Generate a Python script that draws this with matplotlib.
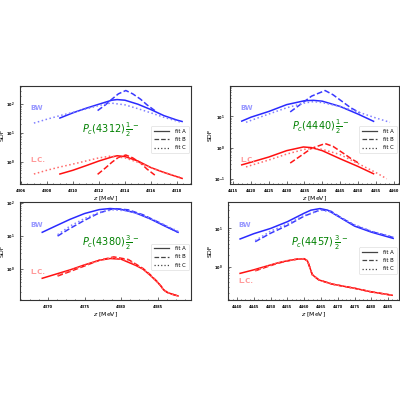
import matplotlib
matplotlib.use("Agg")
import matplotlib.pyplot as plt
from matplotlib.ticker import LogLocator, AutoMinorLocator

# ---- Pc(4312) 1/2- ----
x4312_bw_a = [4309, 4310, 4311, 4312, 4313, 4313.4, 4314, 4315, 4316, 4317, 4318, 4318.4]
y4312_bw_a = [33, 50, 72, 100, 138, 145, 138, 100, 65, 40, 28, 25]
x4312_bw_b = [4311.9, 4312.5, 4313, 4313.5, 4314.07, 4314.6, 4315.2, 4315.7, 4316.3]
y4312_bw_b = [60, 95, 150, 230, 300, 230, 150, 95, 60]
x4312_bw_c = [4307, 4308, 4309, 4310, 4311, 4312, 4312.9, 4314, 4315, 4316, 4317, 4318.4]
y4312_bw_c = [22, 30, 40, 52, 68, 90, 110, 95, 70, 50, 35, 23]
x4312_lc_a = [4309, 4310, 4311, 4312, 4313, 4313.4, 4314, 4315, 4316, 4317, 4318.4]
y4312_lc_a = [0.37, 0.5, 0.72, 1.05, 1.45, 1.6, 1.5, 1.05, 0.62, 0.42, 0.26]
x4312_lc_b = [4311.9, 4312.5, 4313, 4313.5, 4314.07, 4314.6, 4315.2, 4315.7, 4316.3]
y4312_lc_b = [0.36, 0.6, 0.95, 1.4, 1.7, 1.35, 0.9, 0.55, 0.34]
x4312_lc_c = [4307, 4308, 4309, 4310, 4311, 4312, 4312.9, 4314, 4315, 4316, 4317, 4318.4]
y4312_lc_c = [0.37, 0.5, 0.65, 0.82, 1.05, 1.35, 1.55, 1.35, 0.95, 0.62, 0.42, 0.27]

# ---- Pc(4440) 1/2- ----
x4440_bw_a = [4417.4, 4420, 4425, 4430, 4435, 4437.5, 4440, 4445, 4450, 4454.4]
y4440_bw_a = [7.1, 9.5, 14.5, 24, 32, 33, 31, 21, 12, 7]
x4440_bw_b = [4431, 4434, 4437, 4440.8, 4443, 4446, 4448, 4450.6]
y4440_bw_b = [14, 25, 45, 68, 50, 28, 19, 13]
x4440_bw_c = [4418.6, 4420, 4425, 4430, 4435, 4437.5, 4440, 4445, 4450, 4455, 4459]
y4440_bw_c = [6.5, 7.5, 12, 19, 27, 30, 28, 21, 14, 9, 6.5]
x4440_lc_a = [4417.4, 4420, 4425, 4430, 4434.7, 4437, 4440, 4445, 4450, 4454.4]
y4440_lc_a = [0.28, 0.34, 0.5, 0.8, 1.05, 1.0, 0.8, 0.44, 0.25, 0.145]
x4440_lc_b = [4431, 4434, 4437, 4440.8, 4443, 4446, 4448, 4450.6]
y4440_lc_b = [0.32, 0.55, 0.95, 1.35, 1.1, 0.65, 0.45, 0.3]
x4440_lc_c = [4418.6, 4420, 4425, 4430, 4435, 4437.5, 4440, 4445, 4450, 4455, 4458.1]
y4440_lc_c = [0.24, 0.27, 0.4, 0.62, 0.88, 0.95, 0.88, 0.6, 0.31, 0.16, 0.1]

# ---- Pc(4380) 3/2- ----
x4380_bw_a = [4369.2, 4371, 4373, 4375, 4377, 4378.5, 4380, 4382, 4384, 4386, 4387.8]
y4380_bw_a = [13, 20, 32, 48, 63, 68, 64, 50, 33, 20, 13]
x4380_bw_b = [4371.3, 4373, 4375, 4377, 4379, 4381, 4383, 4385, 4387.8]
y4380_bw_b = [10, 17, 30, 50, 68, 62, 44, 27, 13]
x4380_bw_c = [4371.3, 4373, 4375, 4377, 4378.8, 4381, 4383, 4385, 4387.8]
y4380_bw_c = [11, 20, 34, 52, 62, 58, 42, 27, 14]
x4380_lc_a = [4369.2, 4371, 4373, 4375, 4377, 4378.5, 4380, 4382, 4383, 4384, 4385, 4385.5, 4385.8, 4386.3, 4387, 4387.8]
y4380_lc_a = [0.53, 0.7, 0.95, 1.35, 1.85, 2.1, 2.0, 1.3, 1.0, 0.65, 0.4, 0.3, 0.24, 0.2, 0.175, 0.155]
x4380_lc_b = [4371.3, 4373, 4375, 4377, 4379, 4381, 4383, 4384, 4385, 4385.5, 4385.8, 4386.3, 4387, 4387.8]
y4380_lc_b = [0.62, 0.85, 1.25, 1.85, 2.35, 1.95, 1.05, 0.68, 0.41, 0.3, 0.24, 0.2, 0.175, 0.155]
x4380_lc_c = [4371.3, 4373, 4375, 4377, 4378.8, 4381, 4383, 4384, 4385, 4385.5, 4385.8, 4386.3, 4387, 4387.8]
y4380_lc_c = [0.66, 0.9, 1.3, 1.85, 2.2, 1.85, 1.02, 0.66, 0.4, 0.3, 0.24, 0.2, 0.175, 0.155]

# ---- Pc(4457) 3/2- ----
x4457_bw_a = [4440.9, 4445, 4450, 4455, 4460, 4462, 4464.7, 4467, 4470, 4475, 4480, 4486.5]
y4457_bw_a = [5.3, 7.3, 10, 15, 25, 30, 33, 30, 21, 11.5, 8, 5.5]
x4457_bw_b = [4445.4, 4450, 4455, 4460, 4465, 4468, 4471, 4475, 4480, 4486.5]
y4457_bw_b = [4.5, 7.5, 12, 21, 31, 28, 19, 12, 8.3, 5.8]
x4457_bw_c = [4445.4, 4450, 4455, 4460, 4465, 4468, 4471, 4475, 4480, 4486.5]
y4457_bw_c = [4.8, 8.5, 13, 22, 30, 27, 19, 12.5, 8.5, 6]
x4457_lc_a = [4440.9, 4445, 4449, 4452, 4455, 4458, 4460, 4461, 4461.6, 4462.4, 4464.4, 4468.4, 4475.3, 4480, 4486.2]
y4457_lc_a = [0.67, 0.83, 1.05, 1.25, 1.43, 1.58, 1.6, 1.4, 1.0, 0.62, 0.45, 0.35, 0.27, 0.22, 0.18]
x4457_lc_b = [4445.4, 4449, 4452, 4455, 4458, 4460, 4461, 4461.6, 4462.4, 4464.4, 4468.4, 4475.3, 4480, 4486.2]
y4457_lc_b = [0.78, 1.0, 1.22, 1.42, 1.58, 1.62, 1.42, 1.0, 0.62, 0.45, 0.35, 0.27, 0.22, 0.18]
x4457_lc_c = [4445.4, 4449, 4452, 4455, 4458, 4460, 4461, 4461.6, 4462.4, 4464.4, 4468.4, 4475.3, 4480, 4486.2]
y4457_lc_c = [0.8, 1.03, 1.25, 1.45, 1.6, 1.62, 1.42, 1.0, 0.62, 0.45, 0.35, 0.27, 0.22, 0.18]

names = [r"$P_c(4312)\,\frac{1}{2}^-$", r"$P_c(4440)\,\frac{1}{2}^-$",
         r"$P_c(4380)\,\frac{3}{2}^-$", r"$P_c(4457)\,\frac{3}{2}^-$"]
xticks = [range(4306, 4319, 2), range(4415, 4461, 5), range(4370, 4386, 5), range(4440, 4486, 5)]
xlims = [(4305.9, 4319.1), (4414.1, 4461.6), (4366.1, 4389.6), (4437.3, 4488.3)]
ylims = [(0.166, 445), (0.068, 98), (0.117, 107), (0.135, 49)]
lc_ypos = [0.245, 0.245, 0.29, 0.19]
pc_ypos = [0.55, 0.585, 0.58, 0.58]
leg_ypos = [0.45, 0.45, 0.44, 0.40]

curves = [
    (x4312_bw_a, y4312_bw_a, x4312_bw_b, y4312_bw_b, x4312_bw_c, y4312_bw_c,
     x4312_lc_a, y4312_lc_a, x4312_lc_b, y4312_lc_b, x4312_lc_c, y4312_lc_c),
    (x4440_bw_a, y4440_bw_a, x4440_bw_b, y4440_bw_b, x4440_bw_c, y4440_bw_c,
     x4440_lc_a, y4440_lc_a, x4440_lc_b, y4440_lc_b, x4440_lc_c, y4440_lc_c),
    (x4380_bw_a, y4380_bw_a, x4380_bw_b, y4380_bw_b, x4380_bw_c, y4380_bw_c,
     x4380_lc_a, y4380_lc_a, x4380_lc_b, y4380_lc_b, x4380_lc_c, y4380_lc_c),
    (x4457_bw_a, y4457_bw_a, x4457_bw_b, y4457_bw_b, x4457_bw_c, y4457_bw_c,
     x4457_lc_a, y4457_lc_a, x4457_lc_b, y4457_lc_b, x4457_lc_c, y4457_lc_c),
]

rects = [[0.049, 0.54, 0.429, 0.246], [0.575, 0.54, 0.423, 0.246],
         [0.049, 0.25, 0.429, 0.245], [0.570, 0.25, 0.428, 0.245]]

fig = plt.figure(figsize=(4, 4), dpi=100)
lw = 1.1

for i in range(4):
    ax = fig.add_axes(rects[i])
    c = curves[i]
    ax.plot(c[0], c[1], '-', color='#2a2aff', lw=lw)
    ax.plot(c[2], c[3], '--', color='#3a3aff', lw=lw)
    ax.plot(c[4], c[5], ':', color='#8080ff', lw=lw)
    ax.plot(c[6], c[7], '-', color='#ff1010', lw=lw)
    ax.plot(c[8], c[9], '--', color='#ff1818', lw=lw)
    ax.plot(c[10], c[11], ':', color='#ff6a6a', lw=lw)
    ax.set_yscale('log')
    ax.set_xlim(*xlims[i])
    ax.set_ylim(*ylims[i])
    ax.set_xticks(list(xticks[i]))
    ax.xaxis.set_minor_locator(AutoMinorLocator(4))
    ax.yaxis.set_major_locator(LogLocator(base=10, numticks=10))
    ax.yaxis.set_minor_locator(LogLocator(base=10, subs=range(2, 10), numticks=10))
    ax.tick_params(which='both', direction='in', labelsize=2.6, width=0.4)
    ax.tick_params(which='major', length=2)
    ax.tick_params(which='minor', length=1)
    for lab in ax.get_xticklabels() + ax.get_yticklabels():
        lab.set_fontweight('bold')
    for s in ax.spines.values():
        s.set_linewidth(0.8)
        s.set_color('#333333')
    ax.set_xlabel(r"$z$ [MeV]", fontsize=4.5, labelpad=1)
    ax.set_ylabel("SDF", fontsize=4.5, labelpad=1)
    ax.text(0.06, 0.77, "BW", transform=ax.transAxes, color='#9999ff',
            fontsize=5, fontweight='bold', va='center')
    ax.text(0.06, lc_ypos[i], "L.C.", transform=ax.transAxes, color='#ff9999',
            fontsize=5, fontweight='bold', va='center')
    ax.text(0.535, pc_ypos[i], names[i], transform=ax.transAxes, color='green',
            fontsize=7, ha='center', va='center')
    h1, = ax.plot([], [], '-', color='#444444', lw=0.9, label='fit A')
    h2, = ax.plot([], [], '--', color='#444444', lw=0.9, label='fit B')
    h3, = ax.plot([], [], ':', color='#444444', lw=0.9, label='fit C')
    leg = ax.legend(handles=[h1, h2, h3], loc='center right',
                    bbox_to_anchor=(1.0, leg_ypos[i]), fontsize=3.8,
                    handlelength=2.8, borderpad=0.5, labelspacing=0.6,
                    handletextpad=1.2, frameon=True)
    leg.get_frame().set_linewidth(0.4)

fig.savefig("out.png", dpi=100)
